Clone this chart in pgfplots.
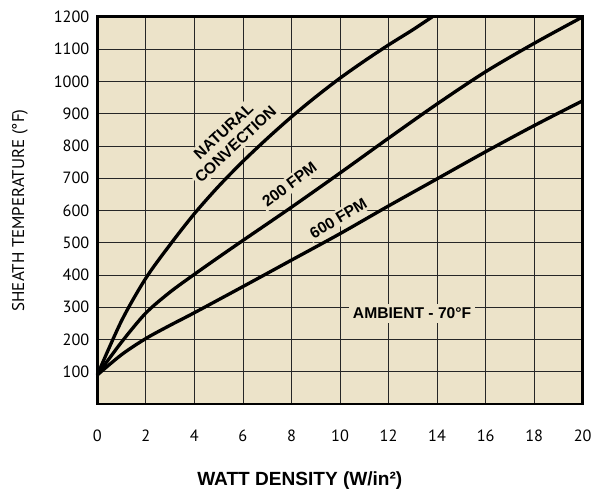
\documentclass[border=0pt]{standalone}
\usepackage{pgfplots}
\pgfplotsset{compat=1.18}
\usepackage{fontspec}
\setmainfont{Liberation Sans}
\newfontfamily\tickfont{PT Sans}
\definecolor{paper}{RGB}{236,227,201}
\begin{document}
\begin{tikzpicture}
\begin{axis}[
  set layers,
  scale only axis, width=366.75pt, height=292.5pt,
  xmin=0, xmax=20, ymin=0, ymax=1200,
  xtick={0,2,...,20}, ytick={100,200,...,1200},
  grid=major, major grid style={black!85, line width=0.6pt},
  axis line style={line width=2.2pt},
  axis background/.style={fill=paper},
  major tick length=0pt,
  tick label style={font=\tickfont\fontsize{12.3}{14}\selectfont},
  /pgf/number format/assume math mode=true,
  /pgf/number format/1000 sep={},
  xticklabel style={yshift=-16pt},
  yticklabel style={xshift=-2.5pt},
  clip=false,
]
% natural convection
\addplot[black, line width=2.5pt, smooth] coordinates {
(0,90) (1,258) (2,390) (3,494) (4,590) (5,675) (6,752) (7,823)
(8,890) (9,952) (10,1010) (11,1063) (12,1113) (13,1160) (13.8,1200)};
% 200 FPM
\addplot[black, line width=2.5pt, smooth] coordinates {
(0,90) (1,192) (2,282) (3,347) (4,402) (5,455) (6,507) (8,610)
(10,716) (12,824) (14,930) (16,1030) (18,1118) (20,1200)};
% 600 FPM
\addplot[black, line width=2.5pt, smooth] coordinates {
(0,90) (1,153) (2,203) (3,244) (4,283) (6,364) (8,446) (10,528)
(12,614) (14,698) (16,782) (18,863) (20,940)};

\begin{pgfonlayer}{pre main}
\node[fill=paper, inner sep=2pt, rotate=43, align=center,
  font=\bfseries\fontsize{11.8}{13.5}\selectfont] at (axis cs:5.45,825) {NATURAL\\CONVECTION};
\node[fill=paper, inner sep=2pt, rotate=37,
  font=\bfseries\fontsize{11.8}{13.5}\selectfont] at (axis cs:7.92,680) {200 FPM};
\node[fill=paper, inner sep=2pt, rotate=31,
  font=\bfseries\fontsize{11.8}{13.5}\selectfont] at (axis cs:9.93,576) {600 FPM};
\node[fill=paper, inner sep=3pt,
  font=\bfseries\fontsize{11.8}{13}\selectfont] at (axis cs:12.97,282) {AMBIENT - 70°F};
\end{pgfonlayer}

\coordinate (SW) at (rel axis cs:0,0);
\coordinate (W) at (rel axis cs:0,0.5);
\coordinate (NE) at (rel axis cs:1,1);
\end{axis}
\node[rotate=90, font=\tickfont\fontsize{12.8}{14}\selectfont]
  at ([xshift=-58.5pt]W) {SHEATH TEMPERATURE (°F)};
\node[font=\bfseries\fontsize{14.4}{17}\selectfont]
  at ([xshift=153pt,yshift=-57.5pt]SW) {WATT DENSITY (W/in²)};
\path ([xshift=-73.5pt,yshift=-68.25pt]SW) rectangle ([xshift=6.75pt,yshift=12.75pt]NE);
\end{tikzpicture}
\end{document}
